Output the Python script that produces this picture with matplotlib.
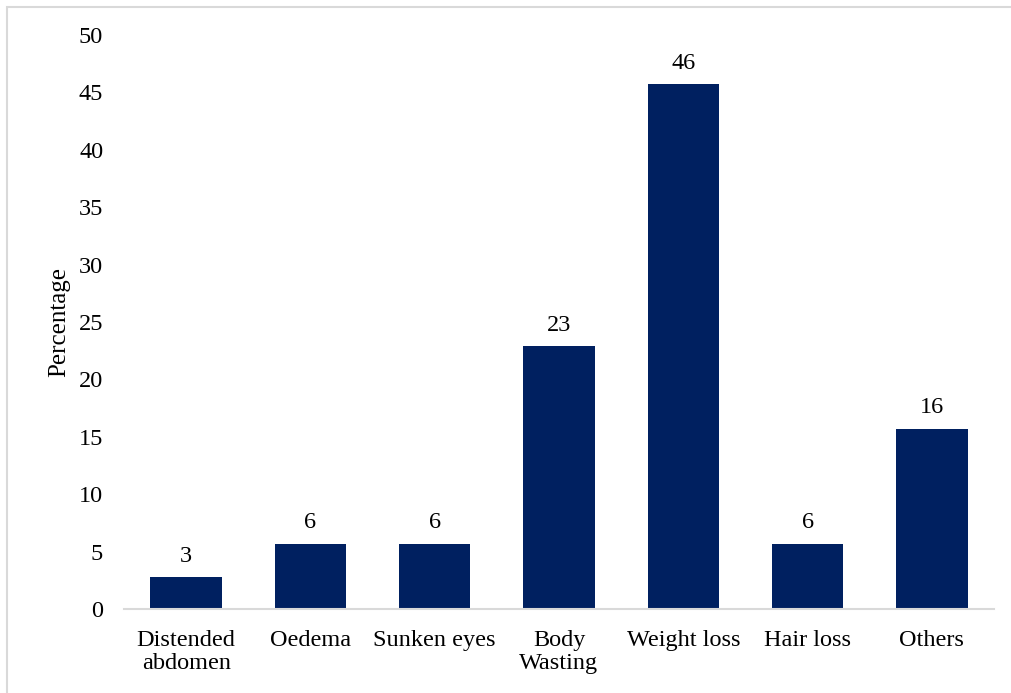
import matplotlib.pyplot as plt
import matplotlib.patches as patches

categories = ['Distended\nabdomen', 'Oedema', 'Sunken eyes', 'Body\nWasting',
              'Weight loss', 'Hair loss', 'Others']
values = [2.8, 5.7, 5.7, 22.9, 45.7, 5.7, 15.7]
labels = ['3', '6', '6', '23', '46', '6', '16']

plt.rcParams['font.family'] = ['Liberation Serif', 'DejaVu Serif']
FS = 17.5

fig = plt.figure(figsize=(10.12, 6.93), dpi=100)
ax = fig.add_axes([124 / 1012, 1 - 609 / 693, 870 / 1012, 574 / 693])

x = range(len(categories))
bars = ax.bar(x, values, width=0.575, color='#002060')
for b, lab in zip(bars, labels):
    ax.annotate(lab, (b.get_x() + b.get_width() / 2, b.get_height()),
                xytext=(0, 15), textcoords='offset points',
                ha='center', va='center', fontsize=FS)

ax.set_xlim(-0.5, len(categories) - 0.5)
ax.set_ylim(0, 50)
ax.set_yticks(range(0, 51, 5))
ax.set_xticks(list(x))
ax.set_xticklabels(categories, fontsize=FS, linespacing=1.15)
ax.tick_params(axis='y', labelsize=FS, length=0, pad=15)
ax.tick_params(axis='x', length=0, pad=15)
ax.set_ylabel('Percentage', fontsize=FS + 0.5, labelpad=6)

for s in ['top', 'right', 'left']:
    ax.spines[s].set_visible(False)
ax.spines['bottom'].set_color('#d9d9d9')
ax.spines['bottom'].set_linewidth(1.5)

# light frame around the whole chart (cut at right/bottom)
frame = patches.Rectangle((7 / 1012, -0.05), 1.05, 1 - 7 / 693 + 0.05,
                          transform=fig.transFigure, fill=False,
                          edgecolor='#d9d9d9', linewidth=1.5, clip_on=False)
fig.patches.append(frame)

plt.savefig('out.png', dpi=100)
